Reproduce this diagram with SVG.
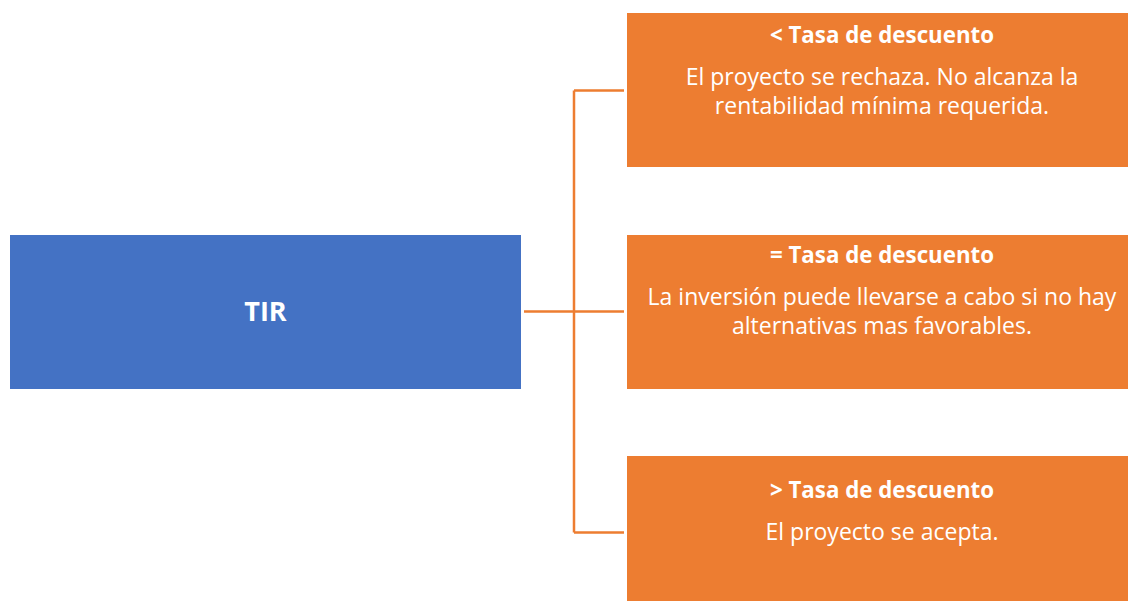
<svg xmlns="http://www.w3.org/2000/svg" width="1128" height="601" viewBox="0 0 1128 601">
<style>
.blue{fill:#4472C4}
.orange{fill:#ED7D31}
.conn{stroke:#ED7D31;stroke-width:2.5;fill:none}
.t{font-family:"Open Sans","Liberation Sans",sans-serif;fill:#fff;text-anchor:middle}
.h{font-weight:bold;font-size:22.3px}
.b{font-size:23px}
.big{font-weight:bold;font-size:27px}
</style>
<rect width="1128" height="601" fill="#fff"/>
<g id="connectors">
<path class="conn" d="M524 311.5H624M574 90.5V532.5M574 90.5H624M574 532.5H624"/>
</g>
<g id="tir">
<rect class="blue" x="10" y="235" width="511" height="154"/>
<text class="t big" x="265.5" y="321">TIR</text>
</g>
<g id="menor">
<rect class="orange" x="627" y="13" width="501" height="154"/>
<text class="t h" x="882" y="43">&lt; Tasa de descuento</text>
<text class="t b" x="882" y="85">El proyecto se rechaza. No alcanza la</text>
<text class="t b" x="882" y="114">rentabilidad mínima requerida.</text>
</g>
<g id="igual">
<rect class="orange" x="627" y="235" width="501" height="154"/>
<text class="t h" x="882" y="263">= Tasa de descuento</text>
<text class="t b" x="882" y="305">La inversión puede llevarse a cabo si no hay</text>
<text class="t b" x="882" y="334">alternativas mas favorables.</text>
</g>
<g id="mayor">
<rect class="orange" x="627" y="456" width="501" height="145"/>
<text class="t h" x="882" y="498">&gt; Tasa de descuento</text>
<text class="t b" x="882" y="540">El proyecto se acepta.</text>
</g>
</svg>
